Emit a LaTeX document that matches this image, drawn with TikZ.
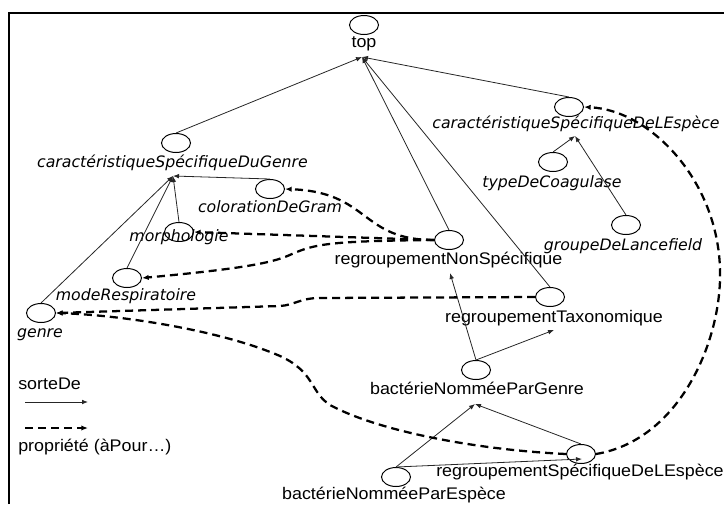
\documentclass[tikz,border=0pt]{standalone}
\usepackage{fontspec}
\setmainfont{Liberation Sans}[FakeStretch=1.065]
\newfontfamily\vfont{DejaVu Sans}
\usetikzlibrary{arrows.meta,shapes.geometric}
\begin{document}
\begin{tikzpicture}[x=0.75pt,y=-0.75pt,
  ell/.style={draw, line width=0.75pt, ellipse, minimum width=21.75pt, minimum height=14.25pt, inner sep=0pt},
  lab/.style={inner sep=0pt, anchor=base, font=\fontsize{12.6}{14}\selectfont},
  ilab/.style={inner sep=0pt, anchor=base, font=\vfont\itshape\fontsize{11.8}{14}\selectfont},
  sorte/.style={draw=black!85, line width=0.6pt, -{Latex[length=4.5pt,width=3.5pt]}},
  prop/.style={draw=black, line width=1.7pt, dash pattern=on 6pt off 3.75pt, -{Latex[length=5pt,width=4pt]}},
  frame/.style={line width=1.5pt}
]
\useasboundingbox (0,0) rectangle (724,504);
\draw[frame] (9,504) -- (9,13) -- (724,13);

\node[ell] (topE) at (364,25) {};
\node[lab] (topL) at (364,47) {top};
\node[ell] (cSDGE) at (176,143) {};
\node[ilab] (cSDGL) at (172.5,167) {caractéristiqueSpécifiqueDuGenre};
\node[ell] (cDGE) at (270,189) {};
\node[ilab] (cDGL) at (270,212) {colorationDeGram};
\node[ell] (morE) at (179,232) {};
\node[ilab] (morL) at (179,241) {morphologie};
\node[ell] (mRE) at (127,278) {};
\node[ilab] (mRL) at (126,300) {modeRespiratoire};
\node[ell] (genE) at (41,313) {};
\node[ilab] (genL) at (40,337) {genre};
\node[ell] (rNSE) at (449,240) {};
\node[lab] (rNSL) at (448.5,264) {regroupementNonSpécifique};
\node[ell] (cSLE) at (569,107) {};
\node[ilab] (cSLL) at (576,128) {caractéristiqueSpécifiqueDeLEspèce};
\node[ell] (tDCE) at (553,162) {};
\node[ilab] (tDCL) at (552,187) {typeDeCoagulase};
\node[ell] (gDLE) at (626,225) {};
\node[ilab] (gDLL) at (623,250) {groupeDeLancefield};
\node[ell] (rTE) at (550,297) {};
\node[lab] (rTL) at (554,322) {regroupementTaxonomique};
\node[ell] (bGE) at (476,370) {};
\node[lab] (bGL) at (477,394) {bactérieNomméeParGenre};
\node[ell] (rSE) at (581,454) {};
\node[lab] (rSL) at (580,476) {regroupementSpécifiqueDeLEspèce};
\node[ell] (bEE) at (396,477) {};
\node[lab] (bEL) at (394,499) {bactérieNomméeParEspèce};
\node[lab, anchor=base west] (sdL) at (18,389) {sorteDe};
\node[lab, anchor=base west] (prL) at (18,451) {propriété (àPour…)};

\coordinate (topT) at (362,57);
\coordinate (cSDGT) at (173,176);
\coordinate (cSLT) at (575,136);
\coordinate (rNST) at (450,273);
\coordinate (rTT) at (554,330);
\coordinate (bGT) at (475,404);
\coordinate (rSin) at (582,459);
\coordinate (l1a) at (25,402);
\coordinate (l1b) at (88,402);
\coordinate (l2a) at (25,428);
\coordinate (l2b) at (88,428);

% sorteDe
\draw[sorte] (cSDGE.north) -- (topT);
\draw[sorte] (cSLE.north) -- (topT);
\draw[sorte] (rNSE.north) -- (topT);
\draw[sorte] (rTE.north) -- (topT);
\draw[sorte] (cDGE.north) -- (cSDGT);
\draw[sorte] (morE.north) -- (cSDGT);
\draw[sorte] (mRE.north) -- (cSDGT);
\draw[sorte] (genE.north) -- (cSDGT);
\draw[sorte] (tDCE.north) -- (cSLT);
\draw[sorte] (gDLE.north) -- (cSLT);
\draw[sorte] (bGE.north) -- (rNST);
\draw[sorte] (bGE.north) -- (rTT);
\draw[sorte] (bEE.north) -- (bGT);
\draw[sorte] (rSE.north) -- (bGT);
\draw[sorte] (bEE.north) -- (rSin);
\draw[sorte] (l1a) -- (l1b);

% proprietes
\draw[prop] (rNSE.west) .. controls (360,240) and (370,192) .. (cDGE.east);
\draw[prop] (rNSE.west) -- (morE.east);
\draw[prop] (rNSE.west) .. controls (330,241) and (315,244) .. (292,254)
   .. controls (275,262) and (250,268) .. (mRE.east);
\draw[prop] (rTE.west) -- (320,298) .. controls (300,298) and (295,305) .. (280,306) -- (genE.east);
\draw[prop] (rSE.west) .. controls (480,450) and (380,432) .. (330,405)
   .. controls (310,392) and (315,372) .. (280,356)
   .. controls (220,330) and (120,315) .. (genE.east);
\draw[prop] (rSE.east) .. controls (680,440) and (722,340) .. (720,270)
   .. controls (718,180) and (650,110) .. (cSLE.east);
\draw[prop] (l2a) -- (l2b);
\end{tikzpicture}
\end{document}
